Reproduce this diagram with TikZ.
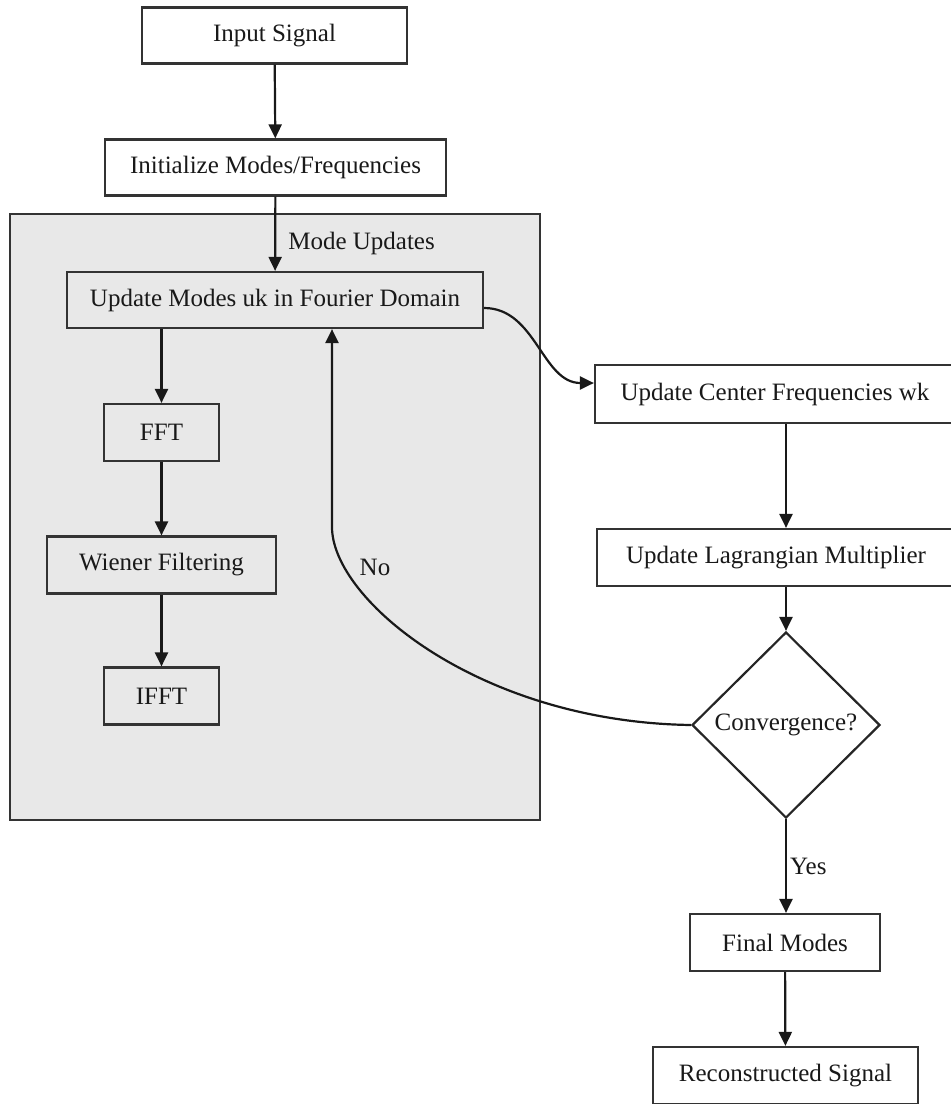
\documentclass[tikz,border=0pt]{standalone}
\usepackage{fontspec}
\setmainfont{Liberation Serif}
\usetikzlibrary{arrows.meta,shapes.geometric}

\begin{document}
\begin{tikzpicture}[x=0.5pt,y=-0.5pt,
	font=\fontsize{12.5}{15}\selectfont,
	text=black!90,
	box/.style={draw=black!80,line width=1.1pt,fill=white,inner sep=0pt,minimum height=28pt},
	arr/.style={draw=black!90,line width=1.1pt,-{Triangle[length=7pt,width=6.5pt]}}]

\useasboundingbox (0,0) rectangle (950,1104);

% group of mode updates
\draw[draw=black!80,line width=1.1pt,fill=gray!18] (10,214) rectangle (540,820);

\node[box,minimum width=132.5pt] (inp) at (274.5,35.5) {Input Signal};
\node[box,minimum width=170.5pt] (init) at (275.5,167.5) {Initialize Modes/Frequencies};
\node[box,fill=gray!18,minimum width=208pt] (upd) at (275,300) {Update Modes uk in Fourier Domain};

\node[box,fill=gray!18,minimum width=57.5pt,minimum height=28.5pt] (fft) at (161.5,432.5) {FFT};
\node[box,fill=gray!18,minimum width=114.5pt,minimum height=28.5pt] (wien) at (161.5,565) {Wiener Filtering};
\node[box,fill=gray!18,minimum width=57.5pt,minimum height=28.5pt] (ifft) at (161.5,696) {IFFT};

\node[box,minimum width=180pt,minimum height=29pt] (ucf) at (775,394) {Update Center Frequencies wk};
\node[box,minimum width=179pt,minimum height=28.5pt] (ulm) at (776,557.5) {Update Lagrangian Multiplier};
\node[draw=black!85,line width=1.1pt,diamond,fill=white,inner sep=0pt,
	minimum width=94pt,minimum height=93pt] (conv) at (786,725) {Convergence?};

\node[box,minimum width=95pt,minimum height=28.5pt] (fin) at (785,942.5) {Final Modes};
\node[box,minimum width=132.5pt,minimum height=28.5pt] (rec) at (785.5,1075.5) {Reconstructed Signal};

\draw[arr] (inp) -- (init);
\draw[arr] (init) -- node[pos=0.63,anchor=west,inner sep=0pt,xshift=6pt] {Mode Updates} (upd);
\draw[arr] (upd.south -| fft) -- (fft);
\draw[arr] (fft) -- (wien);
\draw[arr] (wien) -- (ifft);

\draw[arr] ([yshift=-4pt]upd.east) to[out=0,in=180] ([yshift=5.5pt]ucf.west);
\draw[arr] (ucf.south -| conv) -- (ulm.north -| conv);
\draw[arr] (ulm.south -| conv) -- (conv.north);

% back to the mode update
\coordinate (noturn) at (332,527);
\draw[arr] (conv.west) .. controls (480,722) and (332,600) .. (noturn) -- (upd.south -| noturn);
\node[inner sep=0pt] (nolbl) at (375,567) {No};

\draw[arr] (conv.south) -- node[pos=0.5,anchor=west,inner sep=1.5pt] {Yes} (fin.north -| conv.south);
\draw[arr] (fin) -- (rec);
\end{tikzpicture}
\end{document}
